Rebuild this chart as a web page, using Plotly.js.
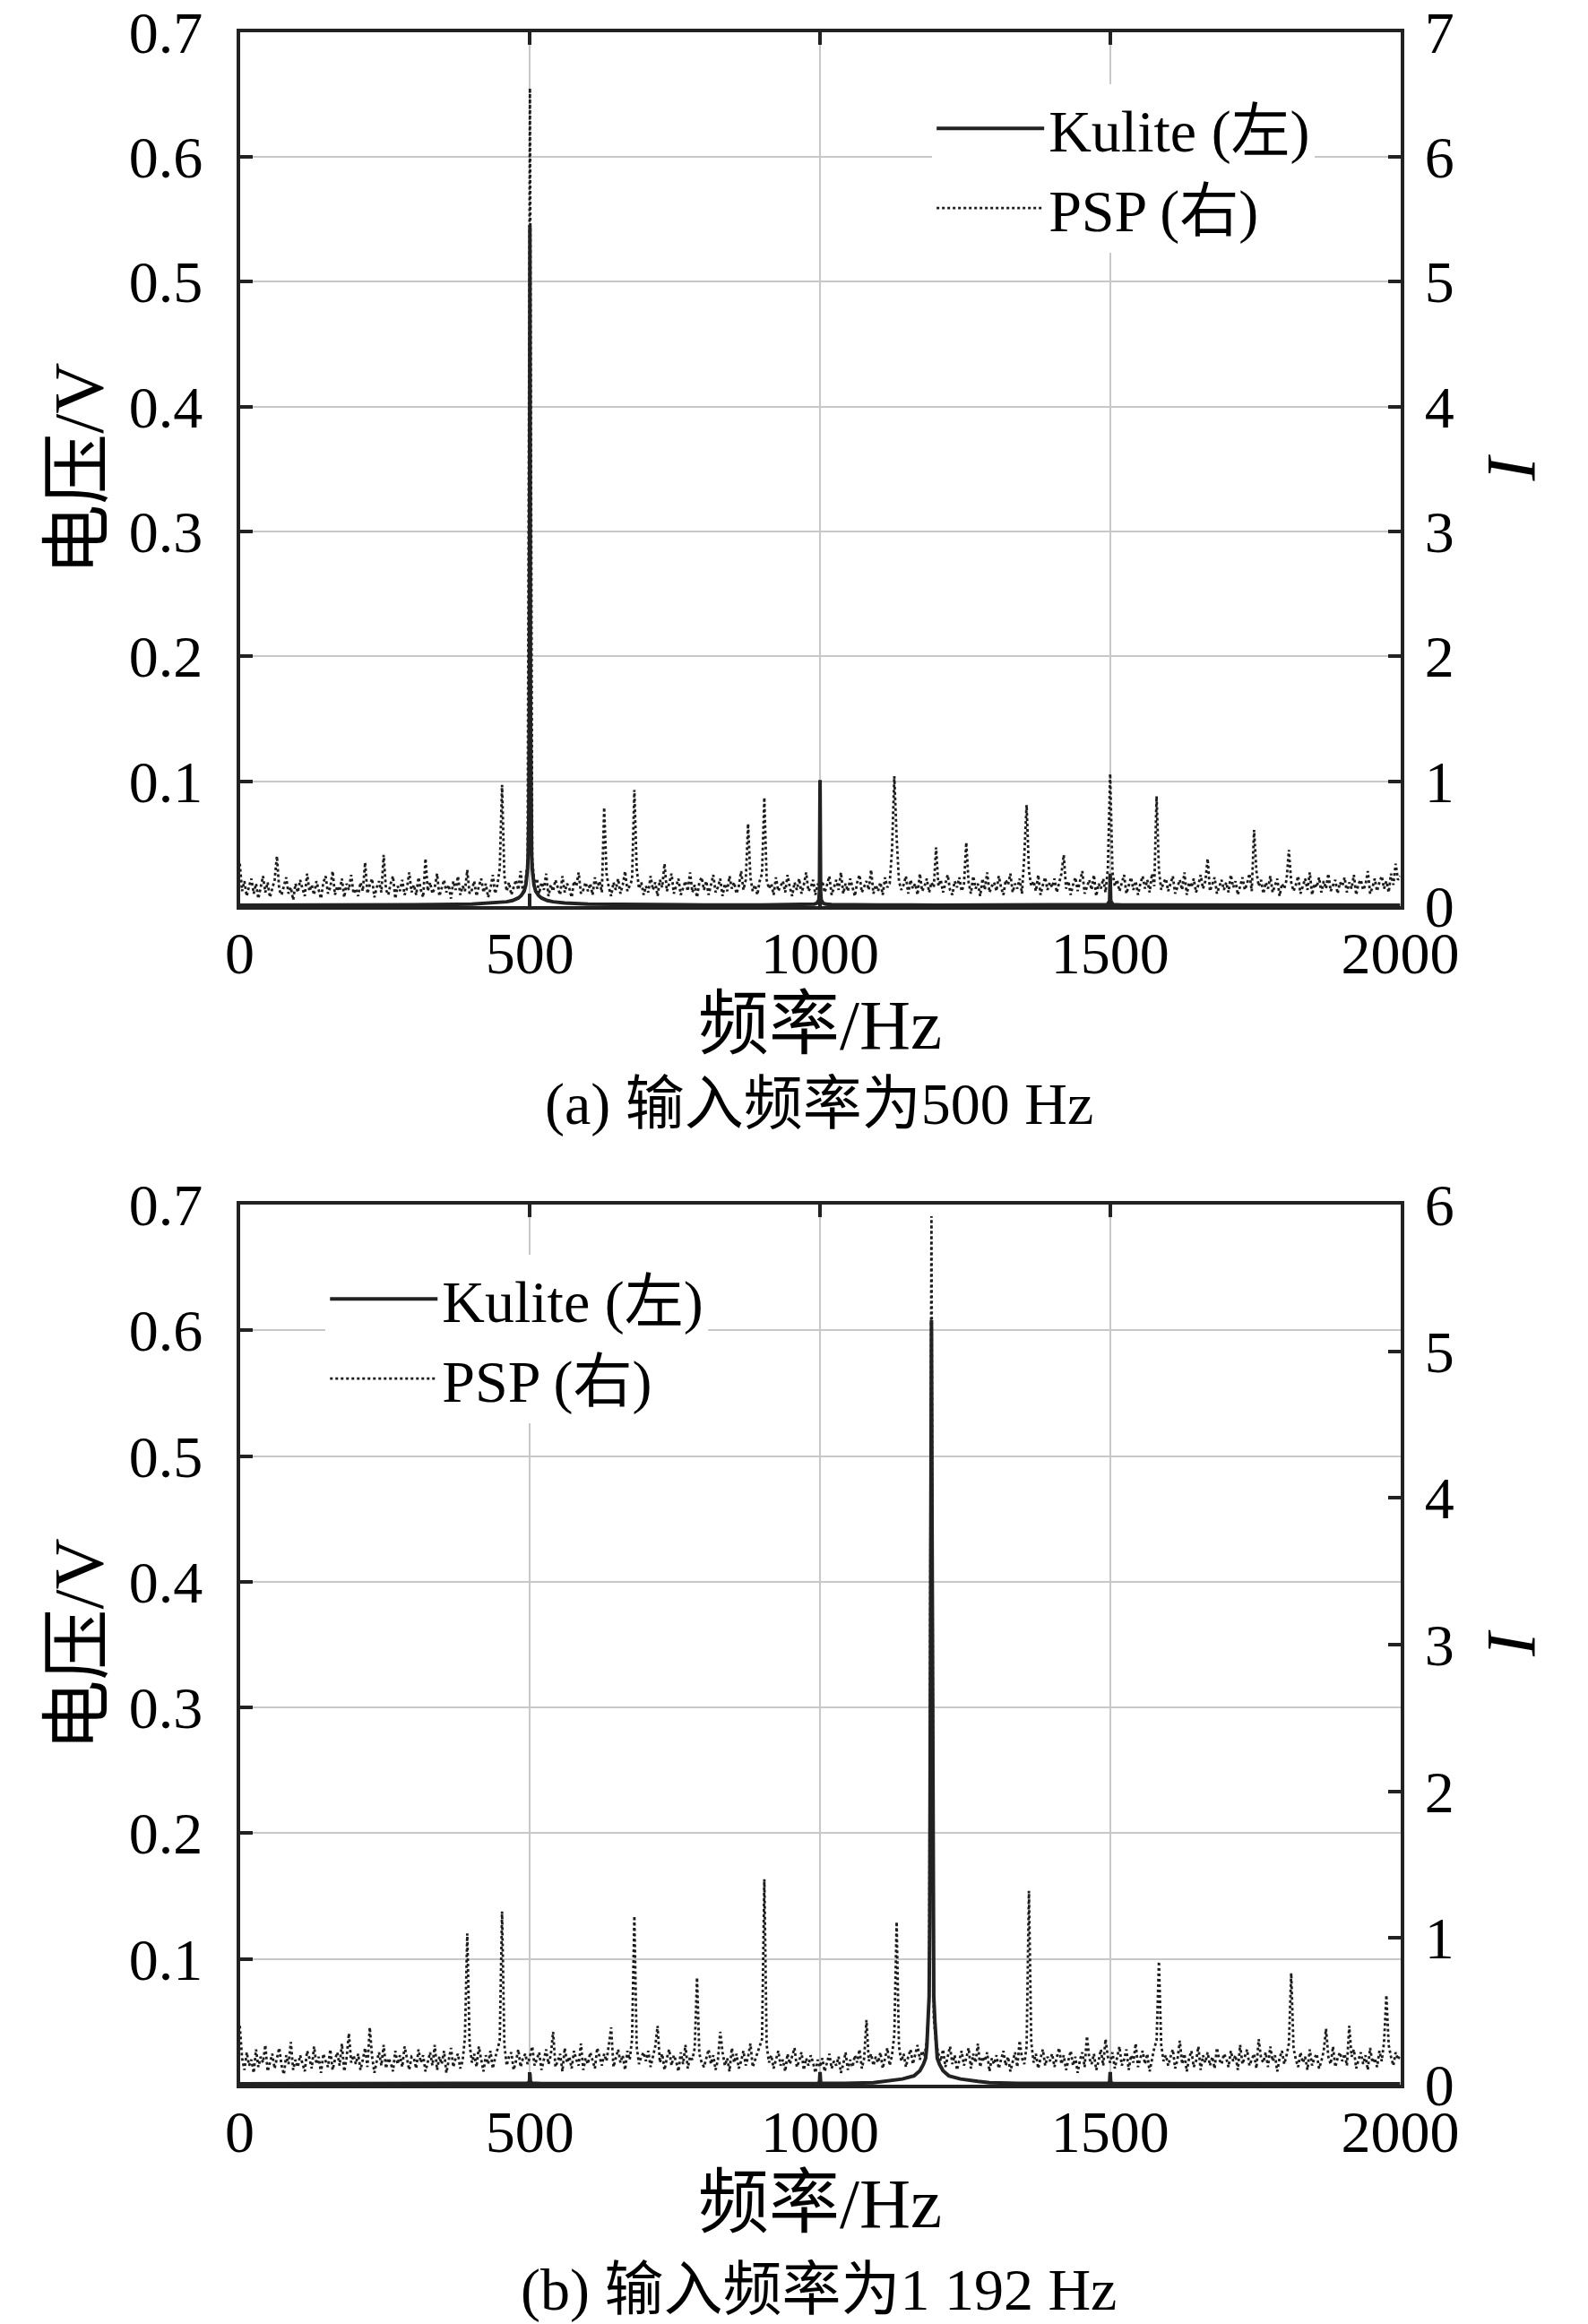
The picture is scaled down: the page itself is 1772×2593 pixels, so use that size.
<!DOCTYPE html>
<html>
<head>
<meta charset="utf-8">
<script src="https://cdn.plot.ly/plotly-3.0.1.min.js"></script>
<style>
  html, body { margin: 0; padding: 0; background: #fff; }
  #chart { width: 1772px; height: 2593px; }
</style>
</head>
<body>
<div id="chart"></div>
<script>
// Kulite spectra (left axis, V), sampled where the curve bends
const kuliteAFreq = [0, 100, 200, 300, 400, 440, 460, 470, 480, 485, 490, 493, 495, 496, 497, 498, 499, 500,
  501, 502, 503, 504, 505, 507, 510, 515, 520, 530, 540, 560, 600, 700, 800, 900, 960, 980, 990, 995, 998, 999,
  1000, 1001, 1002, 1005, 1010, 1020, 1040, 1100, 1200, 1300, 1400, 1480, 1495, 1499, 1500, 1501, 1505, 1520,
  1600, 1700, 1800, 1900, 2000];
const kuliteA = [0.0008, 0.0008, 0.0009, 0.0011, 0.0016, 0.0025, 0.0035, 0.0045, 0.0065, 0.0085, 0.012, 0.017,
  0.024, 0.03, 0.042, 0.07, 0.16, 0.545,
  0.16, 0.07, 0.042, 0.03, 0.024, 0.017, 0.012, 0.0085, 0.0065, 0.0045, 0.0035, 0.0025, 0.0016, 0.0011, 0.0009,
  0.0009, 0.001, 0.0012, 0.0016, 0.0025, 0.005, 0.012,
  0.101, 0.012, 0.005, 0.0025, 0.0016, 0.0012, 0.001, 0.0009, 0.0008, 0.0008, 0.0008, 0.0009, 0.0012, 0.004,
  0.026, 0.004, 0.0012, 0.0009,
  0.0008, 0.0008, 0.0008, 0.0008, 0.0008];

const kuliteBFreq = [0, 100, 200, 300, 400, 480, 496, 499, 500, 501, 504, 520, 600, 700, 800, 900, 980, 996,
  999, 1000, 1001, 1004, 1020, 1042, 1092, 1112, 1142, 1162, 1172, 1178, 1182, 1184, 1186, 1188, 1189, 1190,
  1191, 1192, 1193, 1194, 1195, 1196, 1198, 1200, 1202, 1206, 1212, 1222, 1242, 1272, 1292, 1342, 1400, 1480,
  1496, 1499, 1500, 1501, 1504, 1520, 1600, 1700, 1800, 1900, 2000];
const kuliteB = [0.0007, 0.0007, 0.0007, 0.0007, 0.0008, 0.0009, 0.0012, 0.002, 0.009, 0.002, 0.0012, 0.0009,
  0.0008, 0.0008, 0.0008, 0.0008, 0.0009, 0.0011,
  0.002, 0.01, 0.002, 0.0011, 0.0009, 0.001, 0.0016, 0.0026, 0.0045, 0.007, 0.011, 0.016, 0.021, 0.03,
  0.05, 0.07, 0.13, 0.3,
  0.45, 0.608, 0.45, 0.3, 0.13, 0.07, 0.05, 0.03, 0.021, 0.016, 0.011, 0.007, 0.0045, 0.0026, 0.0016, 0.001,
  0.0009, 0.0009,
  0.0011, 0.002, 0.01, 0.002, 0.0011, 0.0009, 0.0008, 0.0007, 0.0007, 0.0007, 0.0007];

// PSP spectra (right axis, I), one value every 4 Hz, one row per 100 Hz
const pspStep = 4;
const pspA = [
  0.34, 0.12, 0.20, 0.08, 0.16, 0.22, 0.10, 0.18, 0.06, 0.14, 0.24, 0.11, 0.19, 0.07, 0.15, 0.21, 0.40, 0.13, 0.09, 0.17, 0.23, 0.10, 0.15, 0.05, 0.18,
  0.11, 0.21, 0.14, 0.08, 0.26, 0.12, 0.17, 0.09, 0.20, 0.13, 0.06, 0.19, 0.24, 0.10, 0.15, 0.28, 0.09, 0.16, 0.12, 0.22, 0.07, 0.18, 0.13, 0.25, 0.10,
  0.14, 0.08, 0.19, 0.12, 0.35, 0.10, 0.17, 0.22, 0.07, 0.15, 0.20, 0.11, 0.41, 0.13, 0.09, 0.18, 0.24, 0.06, 0.16, 0.12, 0.21, 0.09, 0.14, 0.27, 0.11,
  0.17, 0.09, 0.23, 0.13, 0.07, 0.38, 0.12, 0.19, 0.10, 0.15, 0.26, 0.08, 0.14, 0.21, 0.11, 0.17, 0.06, 0.20, 0.13, 0.24, 0.09, 0.16, 0.12, 0.29, 0.10,
  0.13, 0.20, 0.08, 0.16, 0.22, 0.11, 0.18, 0.07, 0.14, 0.25, 0.10, 0.17, 0.30, 0.97, 0.24, 0.12, 0.19, 0.09, 0.15, 0.21, 0.13, 0.28, 0.11, 0.18, 0.35,
  6.55, 0.38, 0.16, 0.22, 0.10, 0.19, 0.13, 0.26, 0.08, 0.17, 0.12, 0.21, 0.15, 0.09, 0.24, 0.11, 0.18, 0.14, 0.07, 0.20, 0.16, 0.27, 0.10, 0.13, 0.19,
  0.12, 0.18, 0.09, 0.23, 0.14, 0.20, 0.11, 0.79, 0.26, 0.15, 0.08, 0.19, 0.13, 0.22, 0.10, 0.17, 0.28, 0.12, 0.16, 0.21, 0.93, 0.30, 0.14, 0.19, 0.09,
  0.16, 0.11, 0.24, 0.13, 0.19, 0.08, 0.21, 0.15, 0.34, 0.12, 0.18, 0.26, 0.10, 0.16, 0.22, 0.09, 0.14, 0.20, 0.12, 0.27, 0.11, 0.17, 0.07, 0.19, 0.23,
  0.13, 0.20, 0.09, 0.17, 0.25, 0.11, 0.15, 0.22, 0.08, 0.18, 0.12, 0.24, 0.14, 0.19, 0.10, 0.16, 0.28, 0.13, 0.21, 0.66, 0.23, 0.12, 0.17, 0.09, 0.20,
  0.26, 0.87, 0.21, 0.14, 0.18, 0.09, 0.23, 0.12, 0.16, 0.20, 0.11, 0.25, 0.15, 0.08, 0.19, 0.13, 0.22, 0.10, 0.17, 0.27, 0.12, 0.15, 0.21, 0.09, 0.18,
  0.14, 0.20, 0.11, 0.17, 0.24, 0.09, 0.16, 0.21, 0.13, 0.27, 0.10, 0.18, 0.12, 0.22, 0.15, 0.08, 0.19, 0.25, 0.11, 0.16, 0.20, 0.13, 0.29, 0.10, 0.17,
  0.12, 0.19, 0.09, 0.23, 0.15, 0.18, 0.45, 1.04, 0.55, 0.20, 0.13, 0.17, 0.24, 0.10, 0.21, 0.14, 0.18, 0.09, 0.26, 0.12, 0.16, 0.22, 0.11, 0.19, 0.15,
  0.47, 0.16, 0.21, 0.11, 0.18, 0.25, 0.13, 0.09, 0.20, 0.15, 0.23, 0.12, 0.17, 0.51, 0.19, 0.10, 0.24, 0.14, 0.18, 0.08, 0.22, 0.13, 0.27, 0.11, 0.16,
  0.19, 0.12, 0.24, 0.15, 0.09, 0.21, 0.17, 0.26, 0.11, 0.18, 0.14, 0.22, 0.10, 0.40, 0.81, 0.28, 0.16, 0.20, 0.12, 0.25, 0.09, 0.17, 0.23, 0.13, 0.19,
  0.15, 0.22, 0.11, 0.18, 0.26, 0.41, 0.14, 0.20, 0.09, 0.17, 0.23, 0.12, 0.19, 0.28, 0.10, 0.16, 0.21, 0.13, 0.25, 0.08, 0.18, 0.14, 0.22, 0.11, 0.30,
  1.06, 0.27, 0.16, 0.21, 0.12, 0.19, 0.25, 0.10, 0.17, 0.23, 0.13, 0.20, 0.09, 0.18, 0.24, 0.14, 0.21, 0.11, 0.26, 0.16, 0.88, 0.29, 0.13, 0.19, 0.22,
  0.12, 0.18, 0.24, 0.10, 0.16, 0.21, 0.13, 0.27, 0.09, 0.19, 0.15, 0.22, 0.11, 0.17, 0.25, 0.14, 0.20, 0.38, 0.12, 0.18, 0.23, 0.10, 0.16, 0.21, 0.13,
  0.19, 0.11, 0.25, 0.15, 0.20, 0.09, 0.17, 0.23, 0.13, 0.18, 0.26, 0.12, 0.61, 0.28, 0.16, 0.21, 0.10, 0.19, 0.14, 0.24, 0.11, 0.17, 0.22, 0.08, 0.18,
  0.14, 0.21, 0.45, 0.19, 0.12, 0.17, 0.24, 0.10, 0.16, 0.22, 0.13, 0.27, 0.09, 0.18, 0.15, 0.23, 0.11, 0.20, 0.14, 0.26, 0.12, 0.17, 0.21, 0.10, 0.19,
  0.16, 0.23, 0.11, 0.19, 0.14, 0.25, 0.09, 0.18, 0.21, 0.13, 0.17, 0.28, 0.10, 0.15, 0.22, 0.12, 0.19, 0.24, 0.14, 0.20, 0.11, 0.26, 0.17, 0.34, 0.21,
  0.24
];
const pspB = [
  0.40, 0.18, 0.10, 0.22, 0.13, 0.17, 0.08, 0.24, 0.12, 0.19, 0.15, 0.27, 0.09, 0.16, 0.21, 0.11, 0.18, 0.25, 0.13, 0.07, 0.20, 0.14, 0.29, 0.10, 0.17,
  0.12, 0.20, 0.15, 0.09, 0.23, 0.18, 0.11, 0.26, 0.14, 0.19, 0.08, 0.21, 0.16, 0.12, 0.24, 0.10, 0.17, 0.22, 0.13, 0.28, 0.09, 0.18, 0.35, 0.15, 0.20,
  0.14, 0.21, 0.10, 0.17, 0.25, 0.12, 0.39, 0.19, 0.08, 0.16, 0.22, 0.13, 0.27, 0.11, 0.18, 0.15, 0.09, 0.23, 0.14, 0.20, 0.12, 0.26, 0.17, 0.10, 0.19,
  0.18, 0.11, 0.24, 0.15, 0.20, 0.09, 0.16, 0.22, 0.13, 0.27, 0.10, 0.19, 0.14, 0.23, 0.08, 0.17, 0.25, 0.12, 0.18, 0.21, 0.11, 0.16, 0.32, 1.03, 0.28,
  0.15, 0.21, 0.12, 0.26, 0.17, 0.09, 0.20, 0.14, 0.23, 0.11, 0.18, 0.25, 0.30, 1.18, 0.27, 0.13, 0.19, 0.22, 0.10, 0.16, 0.24, 0.12, 0.18, 0.21, 0.14,
  0.19, 0.26, 0.13, 0.17, 0.22, 0.10, 0.18, 0.24, 0.14, 0.20, 0.36, 0.12, 0.16, 0.21, 0.09, 0.25, 0.15, 0.19, 0.11, 0.23, 0.17, 0.13, 0.28, 0.10, 0.18,
  0.14, 0.22, 0.17, 0.11, 0.25, 0.19, 0.13, 0.21, 0.16, 0.27, 0.39, 0.12, 0.18, 0.24, 0.15, 0.20, 0.10, 0.23, 0.17, 0.31, 1.15, 0.26, 0.14, 0.19, 0.22,
  0.16, 0.23, 0.12, 0.19, 0.26, 0.40, 0.15, 0.21, 0.10, 0.18, 0.24, 0.13, 0.20, 0.16, 0.09, 0.22, 0.14, 0.27, 0.11, 0.19, 0.17, 0.25, 0.73, 0.21, 0.15,
  0.12, 0.19, 0.24, 0.14, 0.20, 0.10, 0.17, 0.36, 0.22, 0.13, 0.18, 0.09, 0.25, 0.15, 0.21, 0.11, 0.16, 0.23, 0.13, 0.19, 0.28, 0.12, 0.17, 0.22, 0.26,
  0.31, 1.40, 0.27, 0.15, 0.20, 0.11, 0.18, 0.23, 0.13, 0.17, 0.09, 0.21, 0.14, 0.19, 0.25, 0.12, 0.16, 0.22, 0.10, 0.18, 0.13, 0.20, 0.15, 0.08, 0.17,
  0.12, 0.18, 0.09, 0.15, 0.21, 0.11, 0.16, 0.13, 0.19, 0.08, 0.14, 0.22, 0.10, 0.17, 0.12, 0.20, 0.15, 0.24, 0.11, 0.18, 0.44, 0.16, 0.21, 0.13, 0.19,
  0.15, 0.22, 0.11, 0.18, 0.25, 0.13, 0.20, 0.34, 1.11, 0.26, 0.16, 0.21, 0.12, 0.19, 0.24, 0.14, 0.20, 0.27, 0.17, 0.23, 0.19, 0.30, 0.57, 5.92, 0.45,
  0.28, 0.21, 0.16, 0.24, 0.12, 0.19, 0.26, 0.14, 0.20, 0.10, 0.17, 0.23, 0.13, 0.18, 0.25, 0.11, 0.21, 0.15, 0.28, 0.12, 0.19, 0.16, 0.22, 0.09, 0.18,
  0.14, 0.20, 0.11, 0.17, 0.23, 0.13, 0.19, 0.09, 0.16, 0.22, 0.12, 0.30, 0.18, 0.14, 0.26, 1.32, 0.29, 0.15, 0.21, 0.11, 0.18, 0.24, 0.13, 0.19, 0.16,
  0.21, 0.12, 0.18, 0.25, 0.14, 0.20, 0.10, 0.16, 0.23, 0.13, 0.19, 0.08, 0.17, 0.22, 0.12, 0.33, 0.18, 0.14, 0.21, 0.10, 0.16, 0.24, 0.13, 0.31, 0.19,
  0.15, 0.22, 0.11, 0.19, 0.26, 0.13, 0.17, 0.24, 0.10, 0.20, 0.15, 0.28, 0.12, 0.18, 0.23, 0.14, 0.21, 0.09, 0.17, 0.25, 0.30, 0.84, 0.27, 0.16, 0.20,
  0.13, 0.19, 0.24, 0.11, 0.17, 0.30, 0.14, 0.21, 0.09, 0.18, 0.23, 0.12, 0.16, 0.26, 0.10, 0.20, 0.15, 0.22, 0.13, 0.19, 0.11, 0.25, 0.17, 0.14, 0.21,
  0.18, 0.12, 0.23, 0.16, 0.20, 0.10, 0.27, 0.14, 0.19, 0.24, 0.13, 0.17, 0.21, 0.11, 0.31, 0.18, 0.15, 0.22, 0.12, 0.26, 0.16, 0.20, 0.09, 0.18, 0.23,
  0.14, 0.20, 0.28, 0.76, 0.25, 0.17, 0.12, 0.22, 0.15, 0.19, 0.10, 0.24, 0.13, 0.18, 0.21, 0.11, 0.16, 0.23, 0.38, 0.19, 0.14, 0.26, 0.12, 0.18, 0.22,
  0.16, 0.21, 0.13, 0.40, 0.19, 0.24, 0.11, 0.17, 0.22, 0.14, 0.20, 0.10, 0.25, 0.15, 0.18, 0.12, 0.23, 0.16, 0.29, 0.61, 0.27, 0.19, 0.13, 0.22, 0.17,
  0.20
];
const pspFreq = pspA.map((v, i) => i * pspStep);

const freqTicks = [0, 500, 1000, 1500, 2000];
const voltTicks = [0.1, 0.2, 0.3, 0.4, 0.5, 0.6, 0.7];
const captionA = '(a) 输入频率为500 Hz';
const captionB = '(b) 输入频率为1 192 Hz';

const fontFamily = 'Liberation Serif, Noto Sans CJK SC, serif';
const ink = '#222';
const gridGray = '#c8c8c8';
const fontSize = 66;

const xAxisStyle = {
  range: [0, 2000], tickvals: freqTicks, ticks: 'inside', ticklen: 14, tickwidth: 4, tickcolor: ink,
  showline: true, linewidth: 4, linecolor: ink, mirror: 'ticks', showgrid: true, gridcolor: gridGray, gridwidth: 2,
  zeroline: false, ticklabelstandoff: -8, ticklabeloverflow: 'allow', title: {text: '频率/Hz', standoff: 14}
};
const voltAxisStyle = {
  range: [0, 0.7], tickvals: voltTicks, ticks: 'inside', ticklen: 14, tickwidth: 4, tickcolor: ink,
  showline: true, linewidth: 4, linecolor: ink, mirror: true, showgrid: true, gridcolor: gridGray, gridwidth: 2,
  zeroline: false, side: 'left', ticklabelstandoff: 24, ticklabeloverflow: 'allow',
  title: {text: '电压/V', standoff: 4}
};
const rightAxisStyle = {
  ticks: 'inside', ticklen: 14, tickwidth: 4, tickcolor: ink, dtick: 1,
  showline: true, linewidth: 4, linecolor: ink, showgrid: false, zeroline: false, side: 'right',
  ticklabelstandoff: 10, ticklabeloverflow: 'allow', title: {text: '<i>I</i>', standoff: 36}
};

const kuliteLine = {color: ink, width: 4};
const pspLine = {color: '#1c1c1c', width: 2.8, dash: 'dot'};

// Kulite goes on the overlaying axis so it sits above the PSP dots
const traces = [
  {x: kuliteAFreq, y: kuliteA, xaxis: 'x', yaxis: 'y2', type: 'scatter', mode: 'lines', line: kuliteLine,
    name: 'Kulite (左)', legend: 'legend'},
  {x: pspFreq, y: pspA, xaxis: 'x', yaxis: 'y', type: 'scatter', mode: 'lines', line: pspLine,
    name: 'PSP (右)', legend: 'legend'},
  {x: kuliteBFreq, y: kuliteB, xaxis: 'x2', yaxis: 'y4', type: 'scatter', mode: 'lines', line: kuliteLine,
    name: 'Kulite (左)', legend: 'legend2'},
  {x: pspFreq, y: pspB, xaxis: 'x2', yaxis: 'y3', type: 'scatter', mode: 'lines', line: pspLine,
    name: 'PSP (右)', legend: 'legend2'}
];

const legendStyle = {
  xanchor: 'left', yanchor: 'top', bgcolor: 'rgba(255,255,255,1)', borderwidth: 0,
  itemwidth: 120, font: {size: fontSize, color: '#000', family: fontFamily}, traceorder: 'normal'
};

const layout = {
  width: 1772, height: 2593,
  margin: {l: 0, r: 0, t: 0, b: 0},
  paper_bgcolor: '#fff', plot_bgcolor: '#fff',
  font: {family: fontFamily, size: fontSize, color: '#000'},
  showlegend: true,
  xaxis: Object.assign({}, xAxisStyle, {domain: [0.151, 0.8818], anchor: 'y'}),
  yaxis: Object.assign({}, rightAxisStyle, {domain: [0.6101, 0.9863], anchor: 'x', range: [0, 7]}),
  yaxis2: Object.assign({}, voltAxisStyle, {overlaying: 'y', anchor: 'x'}),
  xaxis2: Object.assign({}, xAxisStyle, {domain: [0.151, 0.8818], anchor: 'y3'}),
  yaxis3: Object.assign({}, rightAxisStyle, {domain: [0.1030, 0.4817], anchor: 'x2', range: [0, 6]}),
  yaxis4: Object.assign({}, voltAxisStyle, {overlaying: 'y3', anchor: 'x2'}),
  legend: Object.assign({}, legendStyle, {x: 0.587, y: 0.9638}),
  legend2: Object.assign({}, legendStyle, {x: 0.205, y: 0.4601}),
  annotations: [
    {text: captionA, xref: 'paper', yref: 'paper', x: 0.5157, y: 0.5248, xanchor: 'center', yanchor: 'middle',
      showarrow: false, font: {size: fontSize}},
    {text: captionB, xref: 'paper', yref: 'paper', x: 0.5157, y: 0.0146, xanchor: 'center', yanchor: 'middle',
      showarrow: false, font: {size: fontSize}}
  ]
};

Plotly.newPlot('chart', traces, layout, {staticPlot: true});
</script>
</body>
</html>
